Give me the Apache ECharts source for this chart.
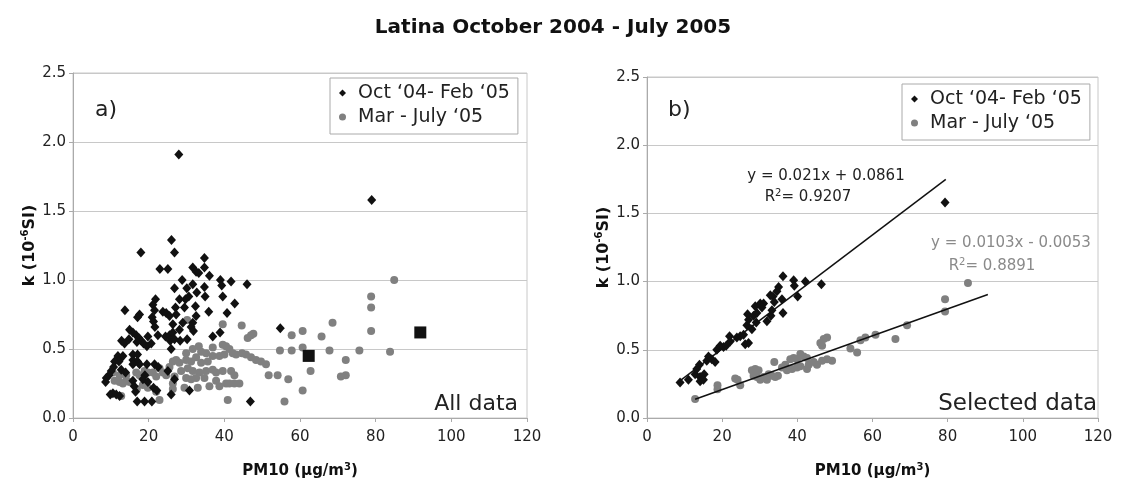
<!DOCTYPE html>
<html><head><meta charset="utf-8">
<script src="https://cdn.jsdelivr.net/npm/echarts@6/dist/echarts.min.js"></script>
<style>html,body{margin:0;padding:0;background:#fff}#c{width:1122px;height:484px}</style>
</head><body><div id="c"></div>
<script>
const titleText = 'Latina October 2004 - July 2005';
const seriesNames = ['Oct \u201804- Feb \u201805', 'Mar - July \u201805'];
const xTickValues = [0, 20, 40, 60, 80, 100, 120];
const yTickValues = [0.0, 0.5, 1.0, 1.5, 2.0, 2.5];

// Panel a) all data
const allWinter = [
[27.97,1.91],[26.03,1.29],[17.94,1.20],[26.83,1.20],[34.74,1.16],[22.96,1.08],[25.07,1.08],[31.66,1.09],[32.54,1.06],[33.25,1.05],
[34.74,1.09],[36.06,1.03],[28.85,1.00],[38.96,1.00],[39.31,0.96],[41.78,0.99],[46.0,0.97],[26.83,0.94],[30.08,0.94],[31.66,0.97],
[34.74,0.95],[32.72,0.91],[34.92,0.88],[39.58,0.88],[29.73,0.86],[30.61,0.88],[21.81,0.86],[21.11,0.82],[21.55,0.78],[13.72,0.78],
[17.59,0.75],[17.06,0.73],[23.75,0.77],[24.63,0.76],[25.51,0.74],[27.09,0.80],[27.26,0.75],[28.14,0.86],[29.46,0.80],[32.37,0.81],
[32.54,0.74],[35.88,0.77],[40.72,0.76],[42.74,0.83],[20.93,0.73],[21.28,0.70],[21.64,0.66],[31.66,0.69],[31.22,0.66],[29.02,0.69],
[26.39,0.68],[14.95,0.64],[15.83,0.62],[16.71,0.60],[17.41,0.58],[18.03,0.56],[18.65,0.54],[19.53,0.52],[20.67,0.54],[19.79,0.59],
[22.43,0.60],[24.45,0.59],[25.51,0.60],[26.39,0.62],[28.14,0.64],[25.68,0.56],[26.83,0.57],[28.32,0.56],[30.17,0.57],[31.84,0.63],
[36.94,0.59],[38.87,0.62],[54.79,0.65],[12.84,0.56],[13.63,0.54],[14.78,0.57],[16.89,0.55],[25.95,0.50],[11.87,0.45],[12.49,0.43],
[13.19,0.45],[12.14,0.41],[15.83,0.46],[17.06,0.46],[15.83,0.42],[17.06,0.41],[15.83,0.39],[17.59,0.39],[19.53,0.39],[21.55,0.39],
[22.52,0.37],[10.99,0.41],[10.73,0.37],[10.11,0.34],[9.50,0.31],[8.80,0.29],[8.62,0.26],[12.75,0.35],[13.90,0.33],[19.0,0.31],
[18.47,0.28],[25.07,0.34],[26.83,0.28],[15.83,0.27],[16.18,0.23],[16.53,0.19],[19.79,0.26],[21.28,0.22],[22.16,0.20],[9.85,0.17],
[10.55,0.18],[11.43,0.17],[12.31,0.16],[25.95,0.17],[30.78,0.20],[16.97,0.12],[18.91,0.12],[20.84,0.12],[46.88,0.12],[78.95,1.58]
];
const allSpring = [
[30.17,0.71],[39.58,0.68],[44.59,0.67],[46.17,0.58],[47.05,0.60],[47.67,0.61],[33.25,0.52],[29.90,0.47],[31.66,0.50],[33.86,0.48],
[35.18,0.47],[36.94,0.51],[39.58,0.53],[40.46,0.52],[41.34,0.50],[42.22,0.47],[43.10,0.46],[36.94,0.45],[38.70,0.45],[40.02,0.46],
[44.68,0.47],[45.73,0.46],[47.05,0.44],[48.37,0.42],[49.69,0.41],[51.01,0.39],[51.72,0.31],[54.09,0.31],[40.90,0.13],[29.90,0.42],
[31.22,0.41],[32.54,0.44],[33.86,0.40],[35.62,0.41],[27.26,0.42],[28.14,0.40],[26.39,0.41],[25.51,0.37],[22.87,0.36],[23.75,0.33],
[24.63,0.31],[21.11,0.33],[21.99,0.30],[28.58,0.34],[30.34,0.36],[31.66,0.34],[33.42,0.33],[35.18,0.34],[36.94,0.35],[37.82,0.33],
[39.58,0.34],[41.78,0.34],[42.66,0.31],[29.90,0.29],[31.22,0.28],[32.54,0.29],[34.74,0.29],[37.82,0.27],[40.46,0.25],[41.34,0.25],
[42.66,0.25],[43.98,0.25],[18.91,0.34],[19.79,0.33],[17.59,0.31],[16.71,0.33],[10.99,0.27],[12.31,0.26],[13.19,0.25],[14.07,0.27],
[14.95,0.26],[10.55,0.33],[12.31,0.31],[14.07,0.31],[18.47,0.24],[19.79,0.22],[21.99,0.19],[12.75,0.16],[22.87,0.13],[26.39,0.21],
[29.46,0.22],[32.98,0.22],[36.06,0.23],[38.70,0.23],[26.39,0.25],[26.83,0.30],[16.89,0.21],
[54.7,0.49],[55.9,0.12],[56.9,0.28],[57.8,0.60],[57.8,0.49],[60.7,0.63],[60.7,0.51],[60.7,0.20],[62.8,0.34],[65.7,0.59],
[67.8,0.49],[68.6,0.69],[70.8,0.30],[72.1,0.31],[72.1,0.42],[75.7,0.49],[78.8,0.88],[78.8,0.80],[78.8,0.63],[84.9,1.00],[83.8,0.48]
];
const allSquares = [[62.3,0.45],[91.8,0.62]];

// Panel b) selected data
const selWinter = [
[8.80,0.26],[11.02,0.28],[12.80,0.32],[13.24,0.36],[13.96,0.39],[14.13,0.30],[15.20,0.32],[14.13,0.27],[15.02,0.28],[15.91,0.42],
[16.36,0.45],[17.24,0.43],[18.13,0.41],[18.58,0.50],[19.47,0.53],[20.36,0.52],[21.07,0.53],[21.96,0.60],[22.13,0.56],[23.91,0.59],
[24.80,0.60],[25.69,0.61],[26.13,0.54],[27.02,0.55],[26.58,0.68],[27.02,0.72],[26.76,0.76],[28.36,0.75],[29.24,0.77],[27.91,0.65],
[29.07,0.70],[30.13,0.84],[31.02,0.84],[30.58,0.81],[28.80,0.82],[31.91,0.71],[32.98,0.75],[33.24,0.79],[32.80,0.90],[33.51,0.89],
[33.87,0.85],[35.02,0.96],[34.58,0.93],[36.18,1.04],[36.18,0.77],[35.91,0.87],[39.02,1.01],[39.20,0.97],[40.09,0.89],[42.13,1.00],
[46.40,0.98],[79.3,1.58]
];
const selSpring = [
[12.80,0.14],[18.76,0.24],[18.76,0.21],[23.47,0.29],[24.09,0.28],[24.80,0.24],[27.91,0.35],[28.80,0.36],[29.69,0.35],[28.36,0.31],
[29.24,0.30],[30.13,0.28],[31.02,0.30],[31.91,0.28],[32.36,0.32],[33.24,0.31],[34.13,0.30],[34.84,0.31],[33.87,0.41],[35.91,0.37],
[36.80,0.39],[37.24,0.35],[38.58,0.36],[39.91,0.37],[38.13,0.43],[39.02,0.44],[39.91,0.43],[40.80,0.47],[41.69,0.45],[42.58,0.44],
[43.02,0.39],[44.36,0.41],[45.24,0.39],[46.58,0.42],[47.91,0.43],[49.24,0.42],[40.80,0.38],[42.58,0.36],[46.13,0.55],[47.02,0.58],
[47.91,0.59],[46.58,0.53],[54.13,0.51],[55.91,0.48],[56.8,0.57],[58.1,0.59],[60.8,0.61],[66.1,0.58],[69.2,0.68],[79.3,0.87],
[79.3,0.78],[85.4,0.99]
];
const fitWinter = [[8.4,0.265],[79.5,1.75]];
const fitSpring = [[12.8,0.138],[90.7,0.906]];

const FONT = "'DejaVu Sans', 'Liberation Sans', Arial, sans-serif";
const BLACK = '#111111';
const GREY = '#808080';
const supRich = (c, fs) => ({sup:{fontSize:fs, fontWeight:'bold', verticalAlign:'top', padding:[0,0,9,0], fontFamily:FONT, color:c}});

function xAxis(gi, gap){
  return {
    type:'value', gridIndex:gi, min:0, max:120, interval:20,
    name:'PM10 (\u03bcg/m{sup|3})', nameLocation:'middle', nameGap:gap,
    nameTextStyle:{fontFamily:FONT, fontSize:15, fontWeight:'bold', color:'#111', rich:supRich('#111', 10)},
    axisLine:{show:true, lineStyle:{color:'#aaaaaa', width:1}},
    axisTick:{show:true, length:4, lineStyle:{color:'#aaaaaa'}},
    axisLabel:{fontFamily:FONT, fontSize:15, color:'#222', margin:12,
      formatter:v => xTickValues.includes(v) ? String(v) : ''},
    splitLine:{show:false}
  };
}
function yAxis(gi){
  return {
    type:'value', gridIndex:gi, min:0, max:2.5, interval:0.5,
    name:'k (10{sup|-6}SI)', nameLocation:'middle', nameGap:31, nameRotate:90,
    nameTextStyle:{fontFamily:FONT, fontSize:16, fontWeight:'bold', color:'#111', rich:supRich('#111', 10)},
    axisLine:{show:true, lineStyle:{color:'#aaaaaa', width:1}},
    axisTick:{show:true, length:4, lineStyle:{color:'#aaaaaa'}},
    axisLabel:{fontFamily:FONT, fontSize:15, color:'#222', margin:7,
      formatter:v => yTickValues.some(t => Math.abs(t-v)<1e-9) ? v.toFixed(1) : ''},
    splitLine:{show:true, lineStyle:{color:'#c8c8c8', width:1}}
  };
}
function legend(left, top){
  return {
    data:[{name:seriesNames[0], icon:'diamond', itemStyle:{color:BLACK}},
          {name:seriesNames[1], icon:'circle', itemStyle:{color:GREY}}],
    orient:'vertical', left:left, top:top, itemWidth:7, itemHeight:7, itemGap:4,
    padding:[5,8,7,9], borderColor:'#aaaaaa', borderWidth:1, backgroundColor:'#fff',
    textStyle:{fontFamily:FONT, fontSize:19, color:'#222', lineHeight:20, padding:[0,0,0,7]},
    selectedMode:false
  };
}

const chart = echarts.init(document.getElementById('c'), null, {renderer:'canvas'});
chart.setOption({
  animation:false,
  backgroundColor:'#fff',
  grid:[
    {left:73, right:595, top:73, bottom:66, show:true, borderColor:'#c8c8c8', borderWidth:1},
    {left:647, right:24, top:77, bottom:62, show:true, borderColor:'#c8c8c8', borderWidth:1}
  ],
  xAxis:[xAxis(0, 44), xAxis(1, 44)],
  yAxis:[yAxis(0), yAxis(1)],
  legend:[legend(330, 78), legend(902, 84)],
  series:[
    {name:seriesNames[1], type:'scatter', xAxisIndex:0, yAxisIndex:0, data:allSpring, symbol:'circle', symbolSize:8, itemStyle:{color:GREY, opacity:1}},
    {name:seriesNames[0], type:'scatter', xAxisIndex:0, yAxisIndex:0, data:allWinter, symbol:'diamond', symbolSize:[9,10], itemStyle:{color:BLACK, opacity:1}},
    {name:'squares', type:'scatter', xAxisIndex:0, yAxisIndex:0, data:allSquares, symbol:'rect', symbolSize:12, itemStyle:{color:'#111', opacity:1}},
    {name:seriesNames[1], type:'scatter', xAxisIndex:1, yAxisIndex:1, data:selSpring, symbol:'circle', symbolSize:8, itemStyle:{color:GREY, opacity:1}},
    {name:seriesNames[0], type:'scatter', xAxisIndex:1, yAxisIndex:1, data:selWinter, symbol:'diamond', symbolSize:[9,10], itemStyle:{color:BLACK, opacity:1}},
    {name:'fitW', type:'line', xAxisIndex:1, yAxisIndex:1, data:fitWinter, showSymbol:false, symbol:'none', lineStyle:{color:'#111', width:1.5}, z:5},
    {name:'fitS', type:'line', xAxisIndex:1, yAxisIndex:1, data:fitSpring, showSymbol:false, symbol:'none', lineStyle:{color:'#111', width:1.5}, z:5}
  ],
  graphic:[
    {type:'text', x:553, y:28, style:{text:titleText, fontFamily:FONT, fontSize:20, fontWeight:'bold', fill:'#111', textAlign:'center', textVerticalAlign:'middle'}},
    {type:'text', x:95, y:110, style:{text:'a)', fontFamily:FONT, fontSize:22, fill:'#222', textAlign:'left', textVerticalAlign:'middle'}},
    {type:'text', x:668, y:110, style:{text:'b)', fontFamily:FONT, fontSize:22, fill:'#222', textAlign:'left', textVerticalAlign:'middle'}},
    {type:'text', x:518, y:404, style:{text:'All data', fontFamily:FONT, fontSize:22, fill:'#222', textAlign:'right', textVerticalAlign:'middle'}},
    {type:'text', x:1097, y:404, style:{text:'Selected data', fontFamily:FONT, fontSize:23, fill:'#222', textAlign:'right', textVerticalAlign:'middle'}},
    {type:'text', x:826, y:176, style:{text:'y = 0.021x + 0.0861', fontFamily:FONT, fontSize:15, fill:'#222', textAlign:'center', textVerticalAlign:'middle'}},
    {type:'text', x:808, y:197, style:{text:'R{sup|2}= 0.9207', fontFamily:FONT, fontSize:15, fill:'#222', textAlign:'center', textVerticalAlign:'middle',
      rich:{sup:{fontSize:10, verticalAlign:'top', padding:[0,0,8,0], fontFamily:FONT, fill:'#222'}}}},
    {type:'text', x:1011, y:243, style:{text:'y = 0.0103x - 0.0053', fontFamily:FONT, fontSize:15, fill:'#8a8a8a', textAlign:'center', textVerticalAlign:'middle'}},
    {type:'text', x:992, y:266, style:{text:'R{sup|2}= 0.8891', fontFamily:FONT, fontSize:15, fill:'#8a8a8a', textAlign:'center', textVerticalAlign:'middle',
      rich:{sup:{fontSize:10, verticalAlign:'top', padding:[0,0,8,0], fontFamily:FONT, fill:'#8a8a8a'}}}}
  ]
});
</script>
</body></html>
